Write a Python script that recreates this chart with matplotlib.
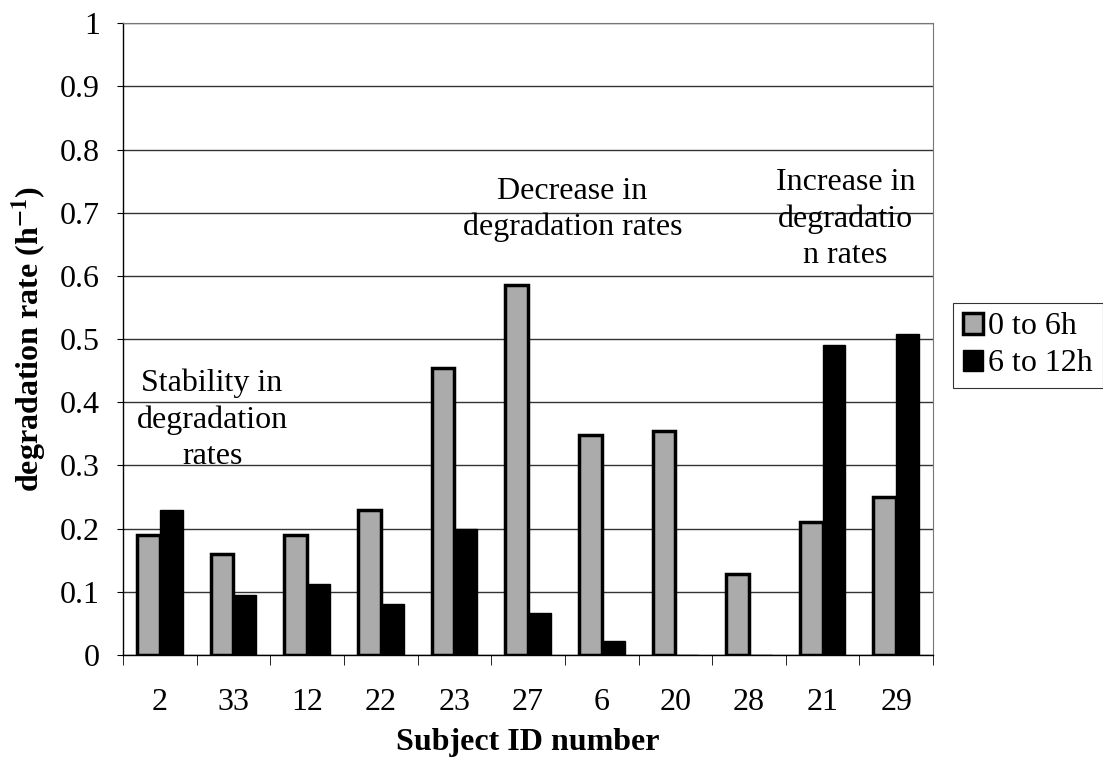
import matplotlib
matplotlib.use("Agg")
import matplotlib.pyplot as plt
import numpy as np

subjects = ["2", "33", "12", "22", "23", "27", "6", "20", "28", "21", "29"]
rate_0_6 = [0.19, 0.16, 0.19, 0.23, 0.455, 0.585, 0.348, 0.355, 0.128, 0.21, 0.25]
rate_6_12 = [0.23, 0.095, 0.113, 0.08, 0.20, 0.067, 0.022, 0.0, 0.0, 0.49, 0.508]
series_names = ["0 to 6h", "6 to 12h"]

plt.rcParams['font.family'] = ['Liberation Serif', 'DejaVu Serif']
plt.rcParams['mathtext.fontset'] = 'stix'

FS = 23

fig = plt.figure(figsize=(11.03, 7.73), dpi=100)
ax = fig.add_axes([0.1115, 0.1527, 0.846 - 0.1115, 0.970 - 0.1527])

x = np.arange(len(subjects))
w = 0.31
ax.bar(x - w / 2, rate_0_6, width=w, color='#ababab', edgecolor='black', linewidth=2.5,
       label=series_names[0], zorder=3)
ax.bar(x + w / 2, rate_6_12, width=w, color='black', edgecolor='black', linewidth=1,
       label=series_names[1], zorder=3)

ax.set_xlim(-0.5, len(subjects) - 0.5)
ax.set_ylim(0, 1)
ax.set_yticks(np.arange(0, 1.01, 0.1))
ax.set_yticklabels(["0"] + [f"{v:.1f}" for v in np.arange(0.1, 0.95, 0.1)] + ["1"])
ax.yaxis.grid(True, color='#333333', linewidth=1)
ax.set_axisbelow(True)

ax.set_xticks(x)
ax.set_xticklabels(subjects)
ax.set_xticks(np.arange(-0.5, len(subjects), 1), minor=True)
ax.tick_params(axis='x', which='major', length=0, pad=24, labelsize=FS)
ax.tick_params(axis='x', which='minor', length=7, direction='out')
ax.tick_params(axis='y', length=4.5, direction='out', labelsize=FS, pad=12)

for s in ['top', 'right']:
    ax.spines[s].set_color('#777777')
    ax.spines[s].set_linewidth(0.8)
for s in ['left', 'bottom']:
    ax.spines[s].set_linewidth(1.0)

ax.set_ylabel("degradation rate (h$^{\\mathbf{-1}}$)", fontsize=FS, fontweight='bold', labelpad=8)
ax.set_xlabel("Subject ID number", fontsize=FS, fontweight='bold', labelpad=8)

ax.text(0.71, 0.372, "Stability in\ndegradation\nrates", ha='center', va='center',
        fontsize=FS, linespacing=1.32)
ax.text(5.6, 0.705, "Decrease in\ndegradation rates", ha='center', va='center',
        fontsize=FS, linespacing=1.32)
ax.text(9.31, 0.69, "Increase in\ndegradatio\nn rates", ha='center', va='center',
        fontsize=FS, linespacing=1.32)

leg = ax.legend(loc='center left', bbox_to_anchor=(1.0247, 0.49), frameon=True, fancybox=False,
                edgecolor='black', fontsize=FS, handlelength=0.65, handleheight=0.65,
                handletextpad=0.15, borderpad=0.3, labelspacing=0.25, borderaxespad=0.0)
leg.get_frame().set_linewidth(0.8)

fig.savefig("out.png", dpi=100)
